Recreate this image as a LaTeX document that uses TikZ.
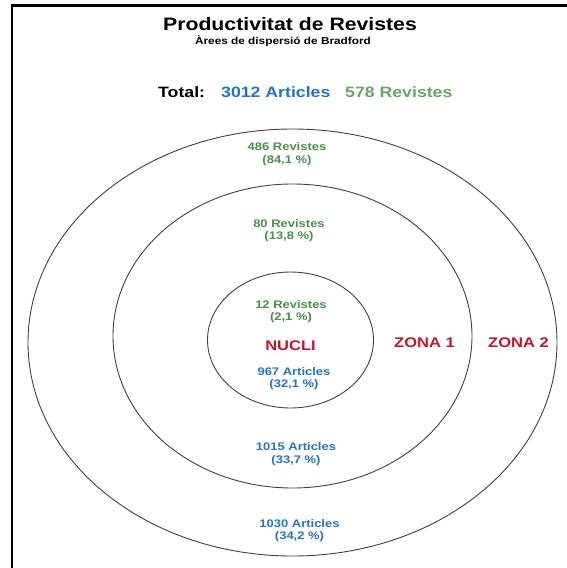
\documentclass[tikz,border=0pt]{standalone}
\usepackage{fontspec}
\setmainfont{Liberation Sans}[FakeStretch=1.18]
\usepackage{xcolor}
\usepackage{tikz}

\definecolor{revgreen}{RGB}{70,145,70}
\definecolor{totgreen}{RGB}{105,165,100}
\definecolor{artblue}{RGB}{35,115,200}
\definecolor{zonered}{RGB}{200,18,45}

\begin{document}
\begin{tikzpicture}[
    x=1pt, y=-1pt,
    font=\bfseries,
    lab/.style={inner sep=0pt, align=center, font=\bfseries\fontsize{11}{12.5}\selectfont},
    zone/.style={inner sep=0pt, text=zonered, font=\bfseries\fontsize{14}{16}\selectfont},
    ring/.style={black!75, line width=0.9pt},
  ]
  \useasboundingbox (0,0) rectangle (566,568);

  %% ---- frame (only its top and left edges are in view) ----------------
  \draw[line width=2.2pt] (12,570) -- (12,5.5) -- (570,5.5);

  %% ---- heading -------------------------------------------------------------
  \node[inner sep=0pt, anchor=base, font=\bfseries\fontsize{18}{20}\selectfont]
    (title) at (290,30.5) {Productivitat de Revistes};
  \node[inner sep=0pt, anchor=base, font=\bfseries\fontsize{10}{12}\selectfont]
    (subtitle) at (283,44) {Àrees de dispersió de Bradford};

  \node[inner sep=0pt, anchor=base west, font=\bfseries\fontsize{15}{17}\selectfont]
    (total) at (158,97) {Total:};
  \node[inner sep=0pt, anchor=base west, text=artblue, font=\bfseries\fontsize{15}{17}\selectfont]
    (totart) at (221,97) {3012 Articles};
  \node[inner sep=0pt, anchor=base west, text=totgreen, font=\bfseries\fontsize{15}{17}\selectfont]
    (totrev) at (345,97) {578 Revistes};

  %% ---- Bradford zones --------------------------------------------------------
  \draw[ring] (292.5,342.5) ellipse (264.5 and 213.5);
  \draw[ring] (292.5,336) ellipse (179.5 and 152);
  \draw[ring] (290.5,340) ellipse (83 and 68);

  %% ---- journals (green) ------------------------------------------------------
  \node[lab, text=revgreen] (rev2) at (287,154) {486 Revistes\\(84,1 \%)};
  \node[lab, text=revgreen] (rev1) at (289,230.5) {80 Revistes\\(13,8 \%)};
  \node[lab, text=revgreen] (rev0) at (291,311.5) {12 Revistes\\(2,1 \%)};

  %% ---- zone names --------------------------------------------------------------
  \node[zone] (nucli) at (290.5,346) {NUCLI};
  \node[zone] (zona1) at (424.5,343) {ZONA 1};
  \node[zone] (zona2) at (518.5,343) {ZONA 2};

  %% ---- articles (blue) ---------------------------------------------------------
  \node[lab, text=artblue] (art0) at (294,378.5) {967 Articles\\(32,1 \%)};
  \node[lab, text=artblue] (art1) at (296,454) {1015 Articles\\(33,7 \%)};
  \node[lab, text=artblue] (art2) at (299.5,530.5) {1030 Articles\\(34,2 \%)};
\end{tikzpicture}
\end{document}
